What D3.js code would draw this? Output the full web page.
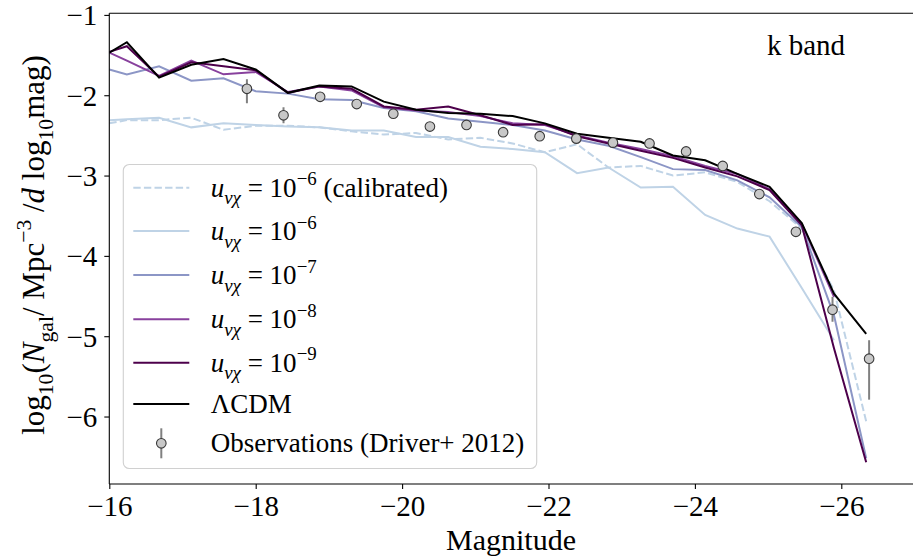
<!DOCTYPE html>
<html><head><meta charset="utf-8">
<script src="https://cdn.jsdelivr.net/npm/d3@7"></script>
<style>
html,body{margin:0;padding:0;background:#fff;}
svg{display:block;font-family:"Liberation Serif","Times New Roman",serif;}
text{white-space:pre;}
</style></head><body>
<svg id="chart" width="913" height="558"></svg>
<script>
// Simulated luminosity-function bins (absolute magnitude)
const modelMag = [-16.00, -16.24, -16.68, -17.12, -17.56, -18.00, -18.44, -18.87, -19.31, -19.75,
  -20.19, -20.63, -21.07, -21.51, -21.95, -22.39, -22.82, -23.26, -23.70, -24.14,
  -24.58, -25.02, -25.46, -25.90, -26.34];

// log10 number densities for each model
const lcdm  = [-1.47, -1.34, -1.78, -1.62, -1.55, -1.68, -1.97, -1.88, -1.89, -2.08, -2.18, -2.22, -2.23,
  -2.26, -2.35, -2.48, -2.53, -2.58, -2.75, -2.81, -2.98, -3.14, -3.59, -4.47, -4.97];
const u9    = [-1.46, -1.39, -1.77, -1.59, -1.64, -1.69, -1.97, -1.89, -1.92, -2.14, -2.18, -2.14, -2.25,
  -2.37, -2.36, -2.51, -2.60, -2.69, -2.78, -2.90, -3.01, -3.18, -3.62, -5.15, -6.57];
const u8    = [-1.47, -1.57, -1.76, -1.57, -1.74, -1.71, -1.96, -1.89, -1.94, -2.15, -2.19, -2.21, -2.26,
  -2.35, -2.37, -2.50, -2.59, -2.67, -2.76, -2.88, -2.98, -3.17, -3.60, -4.51];
const u7    = [-1.68, -1.74, -1.64, -1.82, -1.79, -1.95, -1.98, -2.05, -2.06, -2.16, -2.20, -2.29, -2.33,
  -2.37, -2.44, -2.55, -2.63, -2.77, -2.92, -2.93, -3.06, -3.27, -3.64, -4.74, -6.52];
const u6    = [-2.31, -2.30, -2.28, -2.40, -2.35, -2.37, -2.39, -2.40, -2.44, -2.44, -2.52, -2.52, -2.64,
  -2.67, -2.71, -2.97, -2.90, -3.15, -3.14, -3.49, -3.66, -3.76, -4.40, -5.05];
const u6cal = [-2.35, -2.31, -2.31, -2.28, -2.43, -2.38, -2.38, -2.40, -2.45, -2.49, -2.47, -2.55, -2.53,
  -2.60, -2.71, -2.61, -2.90, -2.88, -3.00, -2.96, -3.08, -3.32, -3.66, -4.43, -6.06];

// Driver et al. (2012) K-band luminosity function
const obsMag = [-17.88, -18.38, -18.88, -19.38, -19.88, -20.38, -20.88, -21.38, -21.88,
  -22.38, -22.88, -23.38, -23.88, -24.38, -24.88, -25.38, -25.88, -26.38];
const obsVal = [-1.92, -2.25, -2.02, -2.11, -2.23, -2.39, -2.37, -2.46, -2.51,
  -2.54, -2.59, -2.60, -2.70, -2.88, -3.23, -3.70, -4.67, -5.28];
const obsErrUp = [0.12, 0.10, 0.03, 0.03, 0.03, 0.03, 0.03, 0.03, 0.03,
  0.03, 0.03, 0.03, 0.03, 0.03, 0.03, 0.03, 0.16, 0.23];
const obsErrDown = [0.18, 0.10, 0.03, 0.03, 0.03, 0.03, 0.03, 0.03, 0.03,
  0.03, 0.03, 0.03, 0.03, 0.03, 0.03, 0.03, 0.15, 0.51];

const xTicks = [-16, -18, -20, -22, -24, -26];
const yTicks = [-1, -2, -3, -4, -5, -6];

const series = [
  {name: "cal", values: u6cal, color: "#bfd3e6", dash: "7.4,3.2", exp: "−6", extra: " (calibrated)"},
  {name: "u6",  values: u6,    color: "#bfd3e6", dash: null, exp: "−6"},
  {name: "u7",  values: u7,    color: "#8c96c6", dash: null, exp: "−7"},
  {name: "u8",  values: u8,    color: "#88419d", dash: null, exp: "−8"},
  {name: "u9",  values: u9,    color: "#4d004b", dash: null, exp: "−9"},
  {name: "lcdm", values: lcdm, color: "#000000", dash: null, label: "ΛCDM"}
];

const svg = d3.select("#chart");
const W = 913;
const plotL = 109.3, plotR = 914.5, plotT = 13.3, plotB = 484;

const x = d3.scaleLinear().domain([-16, -27]).range([plotL, plotR]);
const y = d3.scaleLinear().domain([-6.84, -0.98]).range([plotB, plotT]);

svg.append("defs").append("clipPath").attr("id", "plotclip")
  .append("rect").attr("x", plotL).attr("y", plotT).attr("width", plotR - plotL).attr("height", plotB - plotT);

const plot = svg.append("g").attr("clip-path", "url(#plotclip)");

const line = d3.line().x(d => x(d[0])).y(d => y(d[1]));

series.forEach(s => {
  const pts = s.values.map((v, i) => [modelMag[i], v]);
  plot.append("path")
    .attr("d", line(pts))
    .attr("fill", "none")
    .attr("stroke", s.color)
    .attr("stroke-width", 2)
    .attr("stroke-linejoin", "miter")
    .attr("stroke-dasharray", s.dash);
});

// observations with error bars
const obs = obsMag.map((m, i) => ({m, v: obsVal[i], up: obsErrUp[i], dn: obsErrDown[i]}));
plot.selectAll("line.err").data(obs).join("line")
  .attr("class", "err")
  .attr("x1", d => x(d.m)).attr("x2", d => x(d.m))
  .attr("y1", d => y(d.v + d.up)).attr("y2", d => y(d.v - d.dn))
  .attr("stroke", "#808080").attr("stroke-width", 2);
plot.selectAll("circle.obs").data(obs).join("circle")
  .attr("class", "obs")
  .attr("cx", d => x(d.m)).attr("cy", d => y(d.v))
  .attr("r", 4.8)
  .attr("fill", "#c8c8c8").attr("stroke", "#3a3a3a").attr("stroke-width", 1.1);

// axes
const fmt = d3.format("d");
const xAxis = svg.append("g").attr("transform", `translate(0,${plotB})`)
  .call(d3.axisBottom(x).tickValues(xTicks).tickFormat(fmt).tickSize(5).tickSizeOuter(0).tickPadding(6));
const yAxis = svg.append("g").attr("transform", `translate(${plotL},0)`)
  .call(d3.axisLeft(y).tickValues(yTicks).tickFormat(fmt).tickSize(5).tickSizeOuter(0).tickPadding(7));
[xAxis, yAxis].forEach(a => {
  a.select(".domain").remove();
  a.selectAll(".tick line").attr("stroke", "#000").attr("stroke-width", 1.1);
  a.selectAll(".tick text").attr("font-family", "Liberation Serif, serif").attr("font-size", 29).attr("fill", "#000");
});
xAxis.selectAll(".tick text").attr("dy", "0.71em");
yAxis.selectAll(".tick text").attr("dy", "0.34em");

// spines
svg.append("line").attr("x1", plotL).attr("x2", W).attr("y1", plotB).attr("y2", plotB)
  .attr("stroke", "#000").attr("stroke-width", 1.1);
svg.append("line").attr("x1", plotL).attr("x2", W).attr("y1", plotT).attr("y2", plotT)
  .attr("stroke", "#000").attr("stroke-width", 1.1);
svg.append("line").attr("x1", plotL).attr("x2", plotL).attr("y1", plotT).attr("y2", plotB)
  .attr("stroke", "#000").attr("stroke-width", 1.1);

// rich text helper: sub/superscripts via baseline shifts
function rich(sel, parts, size) {
  let cur = 0;
  parts.forEach(p => {
    const target = p.pos === "sub" ? size * 0.28 : p.pos === "sup" ? -size * 0.42 : 0;
    const ts = sel.append("tspan").text(p.t).attr("dy", (target - cur).toFixed(2))
      .attr("font-size", p.pos ? size * 0.7 : size);
    if (p.i) ts.attr("font-style", "italic");
    cur = target;
  });
}

// axis labels
svg.append("text").attr("x", 511).attr("y", 550)
  .attr("text-anchor", "middle").attr("font-size", 30).text("Magnitude");

const ylab = svg.append("text")
  .attr("text-anchor", "start").attr("font-size", 31);
rich(ylab, [
  {t: "log"}, {t: "10", pos: "sub"}, {t: "("}, {t: "N", i: true}, {t: "gal", pos: "sub"},
  {t: "/ Mpc"}, {t: "−3", pos: "sup"}, {t: " /"}, {t: "d", i: true}, {t: " log"},
  {t: "10", pos: "sub"}, {t: "mag)"}
], 31);
// centre the rotated label along the left edge
const yb = ylab.node().getBBox();
ylab.attr("transform", `translate(44,${245 + yb.width / 2}) rotate(-90)`);

svg.append("text").attr("x", 767).attr("y", 55).attr("font-size", 29).text("k band");

// legend
const lg = svg.append("g");
lg.append("rect").attr("x", 123.3).attr("y", 164.5).attr("width", 413.4).attr("height", 304)
  .attr("rx", 6).attr("fill", "#fff").attr("fill-opacity", 0.8)
  .attr("stroke", "#d0d0d0").attr("stroke-width", 1.1);
const rowY = [187.7, 231, 275, 319.3, 362.7, 404, 443.3];
series.forEach((s, i) => {
  const yy = rowY[i];
  lg.append("line").attr("x1", 133.3).attr("x2", 189.3).attr("y1", yy).attr("y2", yy)
    .attr("stroke", s.color).attr("stroke-width", 2).attr("stroke-dasharray", s.dash);
  const t = lg.append("text").attr("x", 210.7).attr("y", yy + 9).attr("font-size", 27);
  if (s.label) {
    t.text(s.label);
  } else {
    const parts = [{t: "u", i: true}, {t: "νχ", i: true, pos: "sub"}, {t: " = 10"}, {t: s.exp, pos: "sup"}];
    if (s.extra) parts.push({t: s.extra});
    rich(t, parts, 27);
  }
});
const oy = rowY[6];
lg.append("line").attr("x1", 161.3).attr("x2", 161.3).attr("y1", oy - 15).attr("y2", oy + 15)
  .attr("stroke", "#808080").attr("stroke-width", 2);
lg.append("circle").attr("cx", 161.3).attr("cy", oy).attr("r", 4.8)
  .attr("fill", "#c8c8c8").attr("stroke", "#3a3a3a").attr("stroke-width", 1.1);
lg.append("text").attr("x", 210.7).attr("y", oy + 9).attr("font-size", 27).text("Observations (Driver+ 2012)");
</script>
</body></html>
